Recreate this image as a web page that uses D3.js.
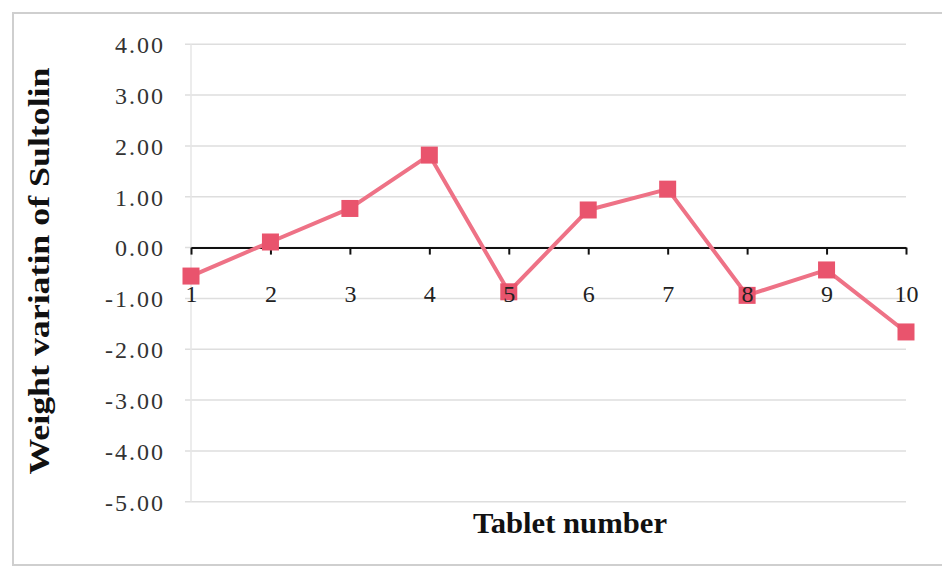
<!DOCTYPE html>
<html>
<head>
<meta charset="utf-8">
<script src="https://cdn.jsdelivr.net/npm/d3@7"></script>
<style>
  html, body { margin: 0; padding: 0; background: #fff; }
  svg { display: block; }
</style>
</head>
<body>
<script>
// Weight variation per tablet
const tablets = [1, 2, 3, 4, 5, 6, 7, 8, 9, 10];
const variation = [-0.56, 0.11, 0.77, 1.82, -0.87, 0.74, 1.15, -0.94, -0.44, -1.66];
const yTicks = [4, 3, 2, 1, 0, -1, -2, -3, -4, -5];
const xTitle = "Tablet number";
const yTitle = "Weight variatin of Sultolin";

const W = 942, H = 570;
const plot = { left: 191, right: 906, top: 44.3, bottom: 501.7 };
const serif = "'Liberation Serif', 'Times New Roman', serif";

const svg = d3.select("body").append("svg")
  .attr("width", W).attr("height", H);

// outer chart frame
svg.append("rect")
  .attr("x", 13).attr("y", 13)
  .attr("width", W).attr("height", 552)
  .attr("fill", "#fff")
  .attr("stroke", "#cfcfcf").attr("stroke-width", 2);

const x = d3.scaleLinear().domain([1, 10]).range([plot.left, plot.right]);
const y = d3.scaleLinear().domain([-5, 4]).range([plot.bottom, plot.top]);

// horizontal gridlines
svg.append("g")
  .selectAll("line").data(yTicks).join("line")
  .attr("x1", plot.left - 6).attr("x2", plot.right)
  .attr("y1", d => y(d)).attr("y2", d => y(d))
  .attr("stroke", "#dedede").attr("stroke-width", 1.5);

// faint vertical value axis line
svg.append("line")
  .attr("x1", plot.left).attr("x2", plot.left)
  .attr("y1", y(4)).attr("y2", y(-5))
  .attr("stroke", "#e6e6e6").attr("stroke-width", 1.5);

// y tick labels, plain hyphen for negatives
const fmt = d3.format(".2f");
const yAxis = d3.axisLeft(y).tickValues(yTicks)
  .tickFormat(d => fmt(d).replace("\u2212", "-")).tickSize(0).tickPadding(0);
const gy = svg.append("g").attr("transform", `translate(${plot.left - 26},0)`).call(yAxis);
gy.select(".domain").remove();
gy.selectAll("text")
  .attr("font-family", serif)
  .attr("font-size", 24)
  .attr("letter-spacing", 2)
  .attr("fill", "#333")
  .attr("dy", "0.35em");

// category axis crossing at zero (line and ticks)
const xAxis = d3.axisBottom(x).tickValues(tablets)
  .tickFormat(d3.format("d")).tickSize(7).tickPadding(33).tickSizeOuter(0);
const gx = svg.append("g").attr("transform", `translate(0,${y(0)})`).call(xAxis);
gx.select(".domain").attr("stroke", "#111").attr("stroke-width", 2);
gx.selectAll(".tick line").attr("stroke", "#111").attr("stroke-width", 2);
gx.selectAll("text").remove();

// series line
const pts = tablets.map((t, i) => [t, variation[i]]);
svg.append("path")
  .datum(pts)
  .attr("fill", "none")
  .attr("stroke", "#ee7286")
  .attr("stroke-width", 4)
  .attr("stroke-linejoin", "round")
  .attr("d", d3.line().x(d => x(d[0])).y(d => y(d[1])));

// square markers
const ms = 17;
svg.append("g").selectAll("rect").data(pts).join("rect")
  .attr("x", d => x(d[0]) - ms / 2)
  .attr("y", d => y(d[1]) - ms / 2)
  .attr("width", ms).attr("height", ms)
  .attr("fill", "#e9546d");

// category labels drawn above the markers
const gxl = svg.append("g").attr("transform", `translate(0,${y(0)})`)
  .call(d3.axisBottom(x).tickValues(tablets).tickFormat(d3.format("d"))
    .tickSize(7).tickPadding(39).tickSizeOuter(0));
gxl.select(".domain").remove();
gxl.selectAll(".tick line").remove();
gxl.selectAll("text")
  .attr("font-family", serif)
  .attr("font-size", 24)
  .attr("dy", "0.35em")
  .attr("fill", "#222");

// axis titles
svg.append("text")
  .attr("x", 570).attr("y", 533)
  .attr("text-anchor", "middle")
  .attr("font-family", serif)
  .attr("font-weight", "bold")
  .attr("font-size", 29)
  .attr("textLength", 194)
  .attr("lengthAdjust", "spacingAndGlyphs")
  .attr("fill", "#111")
  .text(xTitle);

svg.append("text")
  .attr("transform", "translate(49,271) rotate(-90)")
  .attr("text-anchor", "middle")
  .attr("font-family", serif)
  .attr("font-weight", "bold")
  .attr("font-size", 30)
  .attr("textLength", 407)
  .attr("lengthAdjust", "spacingAndGlyphs")
  .attr("fill", "#111")
  .text(yTitle);
</script>
</body>
</html>
